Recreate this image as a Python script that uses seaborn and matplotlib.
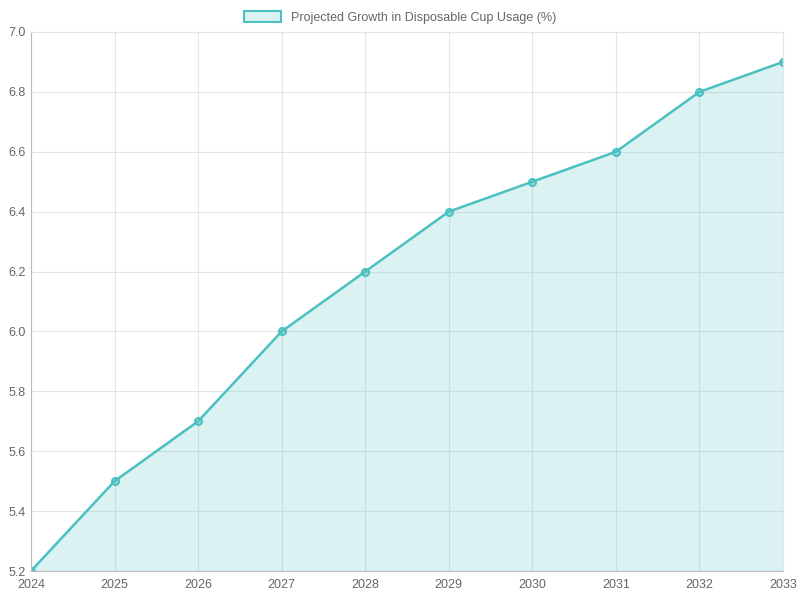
import matplotlib
matplotlib.use("Agg")
import matplotlib.pyplot as plt
import seaborn as sns
import pandas as pd
from matplotlib.patches import Patch

years = [2024, 2025, 2026, 2027, 2028, 2029, 2030, 2031, 2032, 2033]
growth = [5.2, 5.5, 5.7, 6.0, 6.2, 6.4, 6.5, 6.6, 6.8, 6.9]
label = "Projected Growth in Disposable Cup Usage (%)"

sns.set_style("white")
plt.rcParams['font.family'] = ['Liberation Sans', 'DejaVu Sans']
df = pd.DataFrame({"year": years, "growth": growth})
color = (75/255, 192/255, 192/255)

fig = plt.figure(figsize=(8, 6), dpi=100)
ax = fig.add_axes([31/800, 29/600, 752/800, 539/600])
ax.fill_between(df["year"], df["growth"], 5.2, color=color, alpha=0.2, linewidth=0)
sns.lineplot(data=df, x="year", y="growth", ax=ax, color=color, linewidth=1.8,
             marker="o", markersize=5, markerfacecolor=(75/255,192/255,192/255,0.4),
             markeredgecolor=color, markeredgewidth=1.5)
ax.set_xlim(2024, 2033)
ax.set_ylim(5.2, 7.0)
ax.set_xticks(years)
ax.set_yticks([5.2,5.4,5.6,5.8,6.0,6.2,6.4,6.6,6.8,7.0])
ax.set_yticklabels([f"{v:.1f}" for v in ax.get_yticks()])
ax.grid(True, color="#e5e5e5", linewidth=0.8)
ax.set_axisbelow(True)
ax.set_xlabel(""); ax.set_ylabel("")
for s in ax.spines.values():
    s.set_color("#e5e5e5")
ax.spines['left'].set_color("#bbbbbb"); ax.spines['bottom'].set_color("#bbbbbb")
ax.tick_params(colors="#666666", labelsize=9, length=0, pad=6)
ax.tick_params(axis='y', pad=4)
handle = Patch(facecolor=(75/255,192/255,192/255,0.2), edgecolor=color, linewidth=1.5)
fig.legend([handle], [label], loc="upper center", bbox_to_anchor=(0.5, 1.0),
           frameon=False, fontsize=9, labelcolor="#666666", handlelength=3, handleheight=1)
fig.savefig("out.png", dpi=100)
